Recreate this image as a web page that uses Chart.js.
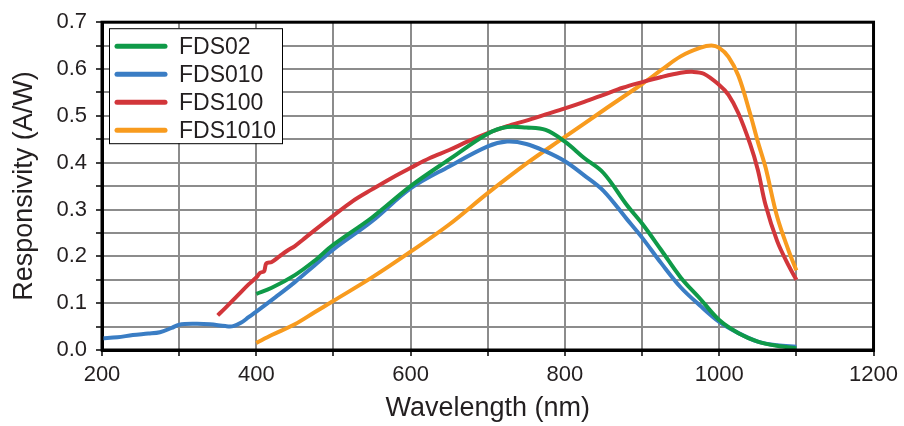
<!DOCTYPE html>
<html>
<head>
<meta charset="utf-8">
<script src="https://cdn.jsdelivr.net/npm/chart.js@4.4.1/dist/chart.umd.min.js"></script>
<style>
  html, body { margin: 0; padding: 0; background: #fff; }
  #wrap { width: 904px; height: 426px; }
</style>
</head>
<body>
<div id="wrap"><canvas id="chart" width="904" height="426"></canvas></div>
<script>
// wavelengths (nm) and responsivity (A/W)
const fds02Nm = [400, 420, 450, 475, 500, 550, 600, 650, 700, 725, 750, 775, 800, 825, 850, 880, 900, 925, 950, 975, 1000, 1025, 1050, 1075, 1100];
const fds02Val = [0.12, 0.133, 0.16, 0.19, 0.225, 0.283, 0.35, 0.407, 0.462, 0.476, 0.475, 0.47, 0.445, 0.41, 0.378, 0.31, 0.27, 0.213, 0.155, 0.11, 0.064, 0.036, 0.018, 0.009, 0.004];

const fds010Nm = [200, 220, 240, 260, 275, 290, 300, 320, 340, 360, 370, 380, 390, 400, 425, 450, 475, 500, 550, 600, 650, 700, 725, 750, 775, 800, 825, 850, 880, 900, 925, 950, 975, 1000, 1025, 1050, 1075, 1100];
const fds010Val = [0.025, 0.027, 0.032, 0.035, 0.038, 0.047, 0.054, 0.056, 0.055, 0.051, 0.051, 0.058, 0.07, 0.082, 0.113, 0.145, 0.18, 0.215, 0.275, 0.345, 0.392, 0.435, 0.445, 0.44, 0.424, 0.403, 0.373, 0.34, 0.28, 0.24, 0.185, 0.134, 0.095, 0.06, 0.036, 0.018, 0.01, 0.007];

const fds100Nm = [350, 360, 375, 390, 400, 405, 410, 413, 420, 430, 440, 450, 460, 475, 500, 525, 550, 575, 600, 625, 650, 675, 700, 725, 750, 775, 800, 825, 850, 875, 900, 925, 950, 965, 980, 1000, 1012, 1025, 1040, 1050, 1060, 1075, 1090, 1100];
const fds100Val = [0.074, 0.09, 0.115, 0.14, 0.155, 0.165, 0.168, 0.185, 0.188, 0.2, 0.212, 0.222, 0.235, 0.255, 0.287, 0.318, 0.343, 0.367, 0.389, 0.41, 0.427, 0.446, 0.463, 0.478, 0.49, 0.503, 0.516, 0.53, 0.545, 0.56, 0.572, 0.583, 0.592, 0.594, 0.59, 0.566, 0.545, 0.505, 0.44, 0.385, 0.31, 0.233, 0.18, 0.15];

const fds1010Nm = [400, 420, 450, 475, 500, 550, 600, 650, 700, 750, 800, 850, 900, 925, 950, 975, 990, 1000, 1012, 1025, 1040, 1050, 1060, 1075, 1090, 1100];
const fds1010Val = [0.015, 0.032, 0.055, 0.08, 0.105, 0.155, 0.21, 0.268, 0.335, 0.398, 0.455, 0.512, 0.568, 0.598, 0.627, 0.645, 0.65, 0.645, 0.626, 0.585, 0.505, 0.445, 0.39, 0.285, 0.212, 0.17];

const seriesNames = ["FDS02", "FDS010", "FDS100", "FDS1010"];
const seriesColors = ["#0f9a48", "#3a7dc4", "#d2363a", "#f89b1e"];

const pairs = (xs, ys) => xs.map((x, i) => ({ x: x, y: ys[i] }));
const allData = [
  pairs(fds02Nm, fds02Val),
  pairs(fds010Nm, fds010Val),
  pairs(fds100Nm, fds100Val),
  pairs(fds1010Nm, fds1010Val),
];

const FONT = "'Liberation Sans', Arial, sans-serif";
const TEXT = "#231f20";

// frame around the plot + legend box in the top left corner
const framePlugin = {
  id: "frame",
  afterDraw(chart) {
    const { ctx, chartArea: a } = chart;
    ctx.save();
    ctx.strokeStyle = "#000";
    ctx.lineWidth = 3;
    ctx.strokeRect(a.left, a.top, a.right - a.left, a.bottom - a.top);

    // legend
    const bx = a.left + 7, by = a.top + 6, bw = 173, bh = 115;
    ctx.fillStyle = "#fff";
    ctx.fillRect(bx, by, bw, bh);
    ctx.lineWidth = 1;
    ctx.strokeStyle = "#000";
    ctx.strokeRect(bx + 0.5, by + 0.5, bw, bh);
    ctx.font = "23px " + FONT;
    ctx.textBaseline = "middle";
    chart.data.datasets.forEach((ds, i) => {
      const y = by + 18 + i * 28;
      ctx.strokeStyle = ds.borderColor;
      ctx.lineWidth = 5;
      ctx.lineCap = "round";
      ctx.beginPath();
      ctx.moveTo(bx + 8, y);
      ctx.lineTo(bx + 56, y);
      ctx.stroke();
      ctx.fillStyle = TEXT;
      ctx.fillText(ds.label, bx + 70, y + 1);
    });
    ctx.restore();
  },
};

new Chart(document.getElementById("chart"), {
  type: "line",
  data: {
    datasets: seriesNames.map((name, i) => ({
      label: name,
      data: allData[i],
      borderColor: seriesColors[i],
      borderWidth: 4,
      pointRadius: 0,
      fill: false,
      tension: 0.35,
    })),
  },
  options: {
    responsive: false,
    animation: false,
    layout: { padding: { top: 20, right: 27, left: 0, bottom: 0 } },
    plugins: {
      legend: { display: false },
      tooltip: { enabled: false },
    },
    scales: {
      x: {
        type: "linear",
        min: 200,
        max: 1200,
        afterFit: (s) => { s.height = 76; },
        ticks: {
          stepSize: 100,
          autoSkip: false,
          maxRotation: 0,
          padding: 6,
          color: TEXT,
          font: { family: FONT, size: 22 },
          callback: (v) => (v % 200 === 0 ? String(v) : ""),
        },
        grid: { color: "#8c8c8c", lineWidth: 2, tickLength: 6, tickColor: "#000", tickWidth: 1.5 },
        border: { color: "#000", width: 3 },
        title: {
          display: true,
          text: "Wavelength (nm)",
          color: TEXT,
          font: { family: FONT, size: 27 },
          padding: { top: 0, bottom: 1 },
        },
      },
      y: {
        min: 0,
        max: 0.7,
        afterFit: (s) => { s.width = 102; },
        ticks: {
          stepSize: 0.05,
          autoSkip: false,
          padding: 9,
          color: TEXT,
          font: { family: FONT, size: 22 },
          callback: (v) => (Math.round(v * 100) % 10 === 0 ? v.toFixed(1) : ""),
        },
        grid: { color: "#8c8c8c", lineWidth: 2, tickLength: 6, tickColor: "#000", tickWidth: 1.5 },
        border: { color: "#000", width: 3 },
        title: {
          display: true,
          text: "Responsivity (A/W)",
          color: TEXT,
          font: { family: FONT, size: 27 },
          padding: { top: 8, bottom: 0 },
        },
      },
    },
  },
  plugins: [framePlugin],
});
</script>
</body>
</html>
